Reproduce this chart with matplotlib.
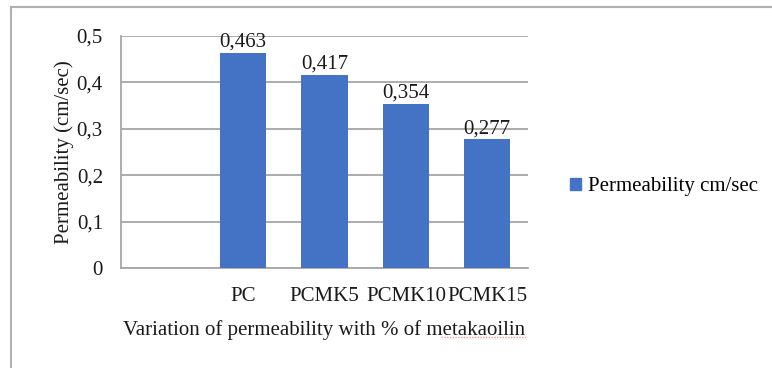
import matplotlib
matplotlib.use("Agg")
import matplotlib.pyplot as plt
from matplotlib.lines import Line2D
from matplotlib.patches import Patch

categories = ["", "PC", "PCMK5", "PCMK10", "PCMK15"]
values = [None, 0.463, 0.417, 0.354, 0.277]
value_labels = ["", "0,463", "0,417", "0,354", "0,277"]
y_ticks = [0, 0.1, 0.2, 0.3, 0.4, 0.5]
y_tick_labels = ["0", "0,1", "0,2", "0,3", "0,4", "0,5"]
series_name = "Permeability cm/sec"

plt.rcParams["font.family"] = "serif"
plt.rcParams["font.serif"] = ["Liberation Serif", "DejaVu Serif"]
BAR = "#4472C4"
GRID = "#A6A6A6"
FS = 15

W, H = 772, 368
fig = plt.figure(figsize=(W / 100, H / 100), dpi=100)

# outer chart frame (top and left edges visible)
fig.add_artist(Line2D([11 / W, 11 / W], [0, 1 - 7 / H], color="#B0B0B0", lw=1.5))
fig.add_artist(Line2D([11 / W, 1], [1 - 7 / H, 1 - 7 / H], color="#B0B0B0", lw=1.5))

left, right, top, bottom = 121, 528, 36, 268
ax = fig.add_axes([left / W, 1 - bottom / H, (right - left) / W, (bottom - top) / H])

x = list(range(len(categories)))
heights = [v if v is not None else 0 for v in values]
ax.bar(x, heights, width=0.57, color=BAR, zorder=3)
for xi, v, lab in zip(x, values, value_labels):
    if v is not None:
        ax.text(xi, v + 0.003, lab, ha="center", va="bottom", fontsize=FS, color="#1a1a1a", zorder=4)

ax.set_xlim(-0.5, len(categories) - 0.5)
ax.set_ylim(0, 0.5)
ax.set_yticks(y_ticks)
ax.set_yticklabels(y_tick_labels, fontsize=FS)
ax.set_xticks(x)
ax.set_xticklabels(categories, fontsize=FS)
ax.tick_params(axis="both", length=0, colors="#1a1a1a")
ax.tick_params(axis="x", pad=14)
ax.tick_params(axis="y", pad=13)
ax.yaxis.grid(True, color=GRID, lw=1.3, zorder=0)
for s in ["top", "right"]:
    ax.spines[s].set_visible(False)
for s in ["left", "bottom"]:
    ax.spines[s].set_color(GRID)
    ax.spines[s].set_linewidth(1.3)

ax.set_ylabel("Permeability (cm/sec)", fontsize=FS, color="#1a1a1a", labelpad=2)
xl = ax.set_xlabel("Variation of permeability with % of metakaoilin", fontsize=FS,
                   color="#1a1a1a", labelpad=10)

fig.legend(handles=[Patch(color=BAR, label=series_name)], loc="center left",
           bbox_to_anchor=(560 / W, 1 - 187 / H), frameon=False, fontsize=FS,
           handlelength=0.5, handleheight=0.5, handletextpad=0.35, borderpad=0)

# spell-check underline under the last word of the axis title
fig.canvas.draw()
bb = xl.get_window_extent()
word_w = bb.width * len("metakaoilin") / len(xl.get_text()) * 0.9
y_ul = (bb.y0 + 3) / H
fig.add_artist(Line2D([(bb.x1 - word_w) / W, bb.x1 / W], [y_ul, y_ul],
                      color="#E8A0A0", lw=1.0, ls=(0, (1, 1))))

fig.savefig("out.png", dpi=100, facecolor="white")
